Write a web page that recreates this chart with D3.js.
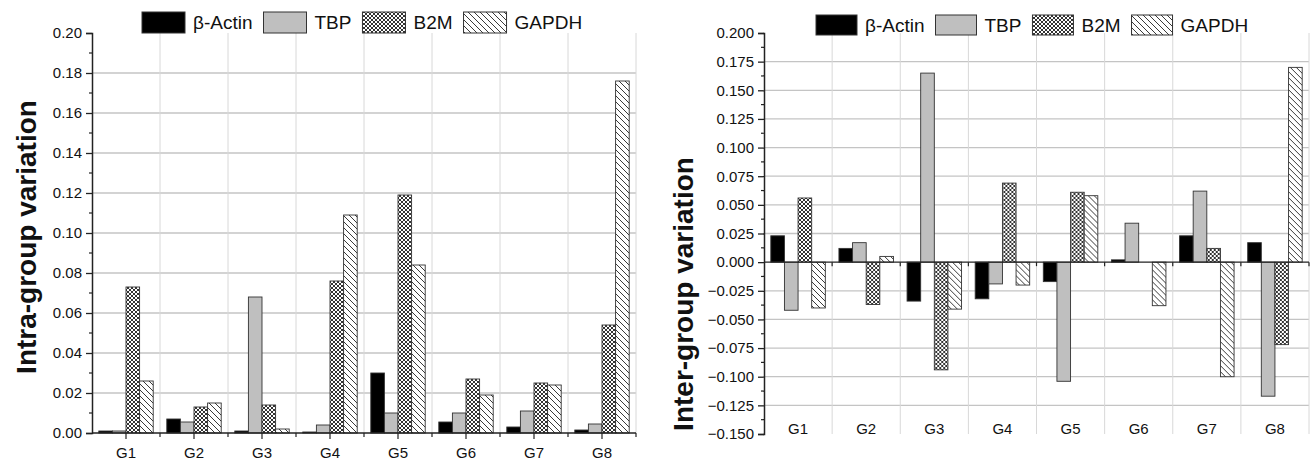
<!DOCTYPE html>
<html>
<head>
<meta charset="utf-8">
<title>Reference gene variation</title>
<script src="https://cdn.jsdelivr.net/npm/d3@7"></script>
<style>
  body { margin: 0; background: #fff; }
  svg text { font-family: "Liberation Sans", Arial, sans-serif; fill: #111; }
</style>
</head>
<body>
<svg id="chart" width="1311" height="462"></svg>
<script>
// groups and series
var groups = ['G1', 'G2', 'G3', 'G4', 'G5', 'G6', 'G7', 'G8'];
var series = ['β-Actin', 'TBP', 'B2M', 'GAPDH'];

// left panel: intra-group variation
var intraActin = [0.001, 0.007, 0.001, 0.0005, 0.030, 0.0055, 0.003, 0.0015];
var intraTBP   = [0.001, 0.0055, 0.068, 0.004, 0.010, 0.010, 0.011, 0.0045];
var intraB2M   = [0.073, 0.013, 0.014, 0.076, 0.119, 0.027, 0.025, 0.054];
var intraGAPDH = [0.026, 0.015, 0.002, 0.109, 0.084, 0.019, 0.024, 0.176];
var intraTicks = [0, 0.02, 0.04, 0.06, 0.08, 0.10, 0.12, 0.14, 0.16, 0.18, 0.20];

// right panel: inter-group variation
var interActin = [0.023, 0.012, -0.034, -0.032, -0.017, 0.002, 0.023, 0.017];
var interTBP   = [-0.042, 0.017, 0.165, -0.019, -0.104, 0.034, 0.062, -0.117];
var interB2M   = [0.056, -0.037, -0.094, 0.069, 0.061, 0, 0.012, -0.072];
var interGAPDH = [-0.040, 0.005, -0.041, -0.020, 0.058, -0.038, -0.100, 0.170];
var interTicks = [-0.150, -0.125, -0.100, -0.075, -0.050, -0.025, 0, 0.025, 0.050, 0.075, 0.100, 0.125, 0.150, 0.175, 0.200];

var svg = d3.select('#chart');
var defs = svg.append('defs');

// crosshatch for B2M
var ph = defs.append('pattern').attr('id', 'hatchB2M')
  .attr('patternUnits', 'userSpaceOnUse').attr('width', 4).attr('height', 4);
ph.append('rect').attr('width', 4).attr('height', 4).attr('fill', '#fff');
ph.append('path').attr('d', 'M0,0L4,4M4,0L0,4').attr('stroke', '#333').attr('stroke-width', 1);

// diagonal lines for GAPDH
var pg = defs.append('pattern').attr('id', 'hatchGAPDH')
  .attr('patternUnits', 'userSpaceOnUse').attr('width', 6).attr('height', 6);
pg.append('rect').attr('width', 6).attr('height', 6).attr('fill', '#fff');
pg.append('path').attr('d', 'M-1,-1L7,7M-1,5L1,7M5,-1L7,1').attr('stroke', '#3a3a3a').attr('stroke-width', 1);

var fills = ['#000', '#bfbfbf', 'url(#hatchB2M)', 'url(#hatchGAPDH)'];

function drawPanel(p) {
  var g = svg.append('g');
  var x0 = d3.scaleBand().domain(groups).range([p.left, p.right]).paddingInner(0).paddingOuter(0);
  var bw = x0.bandwidth();
  var x1 = d3.scaleBand().domain(series).range([bw * 0.1, bw * 0.9]);
  var y = d3.scaleLinear().domain(p.domain).range([p.bottom, p.top]);

  // grid
  g.selectAll('.hgrid').data(p.ticks.filter(function(t){ return t !== p.domain[1] && t !== p.domain[0] && t !== 0; }))
    .enter().append('line')
    .attr('x1', p.left).attr('x2', p.right)
    .attr('y1', function(d){ return y(d); }).attr('y2', function(d){ return y(d); })
    .attr('stroke', '#c4c4c4').attr('stroke-width', 1.3);
  g.selectAll('.vgrid').data(groups.slice(1).concat(['end']))
    .enter().append('line')
    .attr('x1', function(d, i){ return p.left + bw * (i + 1); })
    .attr('x2', function(d, i){ return p.left + bw * (i + 1); })
    .attr('y1', p.top).attr('y2', p.bottom)
    .attr('stroke', '#d8d8d8').attr('stroke-width', 1);

  // bars
  var rows = groups.map(function(gr, i){
    return series.map(function(s, k){ return {group: gr, key: s, k: k, v: p.values[k][i]}; });
  });
  var gg = g.selectAll('.grp').data(rows).enter().append('g')
    .attr('transform', function(d, i){ return 'translate(' + x0(groups[i]) + ',0)'; });
  gg.selectAll('rect').data(function(d){ return d; }).enter().append('rect')
    .attr('x', function(d){ return x1(d.key); })
    .attr('width', x1.bandwidth())
    .attr('y', function(d){ return Math.min(y(d.v), y(0)); })
    .attr('height', function(d){ return Math.abs(y(d.v) - y(0)); })
    .attr('fill', function(d){ return fills[d.k]; })
    .attr('stroke', function(d){ return d.v === 0 ? 'none' : '#333'; })
    .attr('stroke-width', 0.9);

  // y axis
  var yAxis = d3.axisLeft(y).tickValues(p.ticks).tickFormat(d3.format(p.fmt)).tickSize(6).tickPadding(4);
  var ya = g.append('g').attr('transform', 'translate(' + p.left + ',0)').call(yAxis);
  ya.select('.domain').attr('stroke', '#222').attr('stroke-width', 1.5);
  ya.selectAll('.tick line').attr('stroke', '#222').attr('stroke-width', 1.3);
  ya.selectAll('.tick text').style('font-size', '15px').style('font-family', '"Liberation Sans", Arial, sans-serif').attr('fill', '#111');
  var minor = d3.pairs(p.ticks).map(function(a){ return (a[0] + a[1]) / 2; });
  g.selectAll('.minor').data(minor).enter().append('line')
    .attr('x1', p.left - 3).attr('x2', p.left)
    .attr('y1', function(d){ return y(d); }).attr('y2', function(d){ return y(d); })
    .attr('stroke', '#222').attr('stroke-width', 1.2);

  // zero line / x axis
  g.append('line').attr('x1', p.left).attr('x2', p.right)
    .attr('y1', y(0)).attr('y2', y(0)).attr('stroke', '#222').attr('stroke-width', 1.4);
  g.selectAll('.xtick').data(groups).enter().append('line')
    .attr('x1', function(d){ return x0(d) + bw / 2; }).attr('x2', function(d){ return x0(d) + bw / 2; })
    .attr('y1', y(0)).attr('y2', y(0) + p.centerTick)
    .attr('stroke', '#222').attr('stroke-width', 1.2);
  g.selectAll('.xtick2').data(groups).enter().append('line')
    .attr('x1', function(d){ return x0(d) + bw; }).attr('x2', function(d){ return x0(d) + bw; })
    .attr('y1', y(0)).attr('y2', y(0) + 4)
    .attr('stroke', '#222').attr('stroke-width', 1.2);

  g.selectAll('.xlab').data(groups).enter().append('text')
    .attr('x', function(d){ return x0(d) + bw / 2; })
    .attr('y', p.labelY)
    .attr('text-anchor', 'middle')
    .style('font-size', '15px')
    .text(function(d){ return d; });

  // axis title
  g.append('text')
    .attr('transform', 'translate(' + p.titleX + ',' + p.titleY + ') rotate(-90)')
    .attr('text-anchor', 'middle')
    .style('font-size', '28px').style('font-weight', 'bold')
    .text(p.title);

  // legend
  var lx = p.legendX;
  series.forEach(function(s, k){
    g.append('rect').attr('x', lx).attr('y', p.legendY)
      .attr('width', p.boxW).attr('height', p.boxH)
      .attr('fill', fills[k]).attr('stroke', '#333').attr('stroke-width', 1);
    var t = g.append('text').attr('x', lx + p.boxW + 8).attr('y', p.legendY + p.boxH / 2)
      .attr('dy', '0.36em').style('font-size', '19px').text(s);
    lx += p.boxW + 8 + t.node().getComputedTextLength() + 11;
  });
}

drawPanel({
  left: 92, right: 636, top: 33, bottom: 433,
  domain: [0, 0.20], ticks: intraTicks, fmt: '.2f',
  values: [intraActin, intraTBP, intraB2M, intraGAPDH],
  centerTick: 6, labelY: 458,
  title: 'Intra-group variation', titleX: 36, titleY: 237,
  legendX: 142, legendY: 12, boxW: 43, boxH: 21
});

drawPanel({
  left: 764, right: 1309, top: 33, bottom: 434,
  domain: [-0.150, 0.200], ticks: interTicks, fmt: '.3f',
  values: [interActin, interTBP, interB2M, interGAPDH],
  centerTick: 0, labelY: 434,
  title: 'Inter-group variation', titleX: 693, titleY: 294,
  legendX: 816, legendY: 15, boxW: 41, boxH: 20
});
</script>
</body>
</html>
